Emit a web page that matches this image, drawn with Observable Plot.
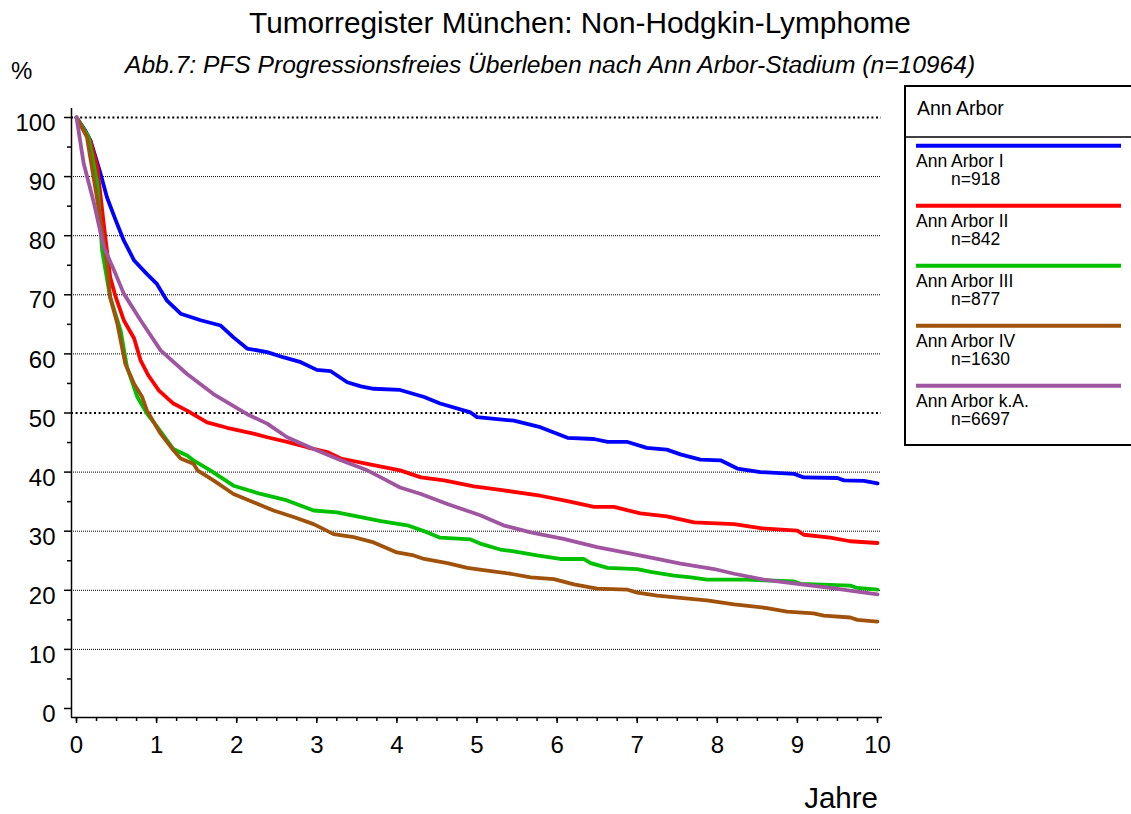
<!DOCTYPE html>
<html><head><meta charset="utf-8">
<script src="https://cdn.jsdelivr.net/npm/d3@7"></script>
<script src="https://cdn.jsdelivr.net/npm/@observablehq/plot@0.6"></script>
<style>body{margin:0;background:#fff;} #chart{width:1131px;height:814px;}</style>
</head><body><div id="chart"></div>
<script>
// ---- data (years, % progression-free survival) ----
const annArborI = [[0,100],[0.11,97.8],[0.175,96.1],[0.30,90.5],[0.38,86.5],[0.49,82.6],[0.59,79.2],[0.72,75.8],[0.88,73.5],[1.0,71.9],[1.13,69.0],[1.30,66.8],[1.55,65.7],[1.80,64.8],[1.96,62.8],[2.13,60.9],[2.38,60.3],[2.59,59.4],[2.80,58.6],[3.0,57.3],[3.17,57.1],[3.38,55.2],[3.55,54.5],[3.71,54.1],[4.04,53.9],[4.34,52.7],[4.54,51.6],[4.92,50.1],[5.0,49.3],[5.46,48.7],[5.79,47.6],[6.13,45.8],[6.46,45.6],[6.63,45.1],[6.88,45.1],[7.12,44.1],[7.37,43.8],[7.54,43.0],[7.79,42.1],[8.04,42.0],[8.25,40.6],[8.54,40.0],[8.96,39.7],[9.08,39.1],[9.50,39.0],[9.58,38.6],[9.83,38.5],[10,38.1]];
const annArborII = [[0,100],[0.17,96.2],[0.26,91.6],[0.34,82.0],[0.42,73.0],[0.49,69.6],[0.59,65.7],[0.72,62.6],[0.80,58.9],[0.90,56.3],[1.03,53.8],[1.21,51.6],[1.38,50.4],[1.63,48.4],[1.88,47.5],[2.21,46.5],[2.38,45.9],[2.63,45.1],[2.88,44.2],[3.13,43.4],[3.30,42.3],[3.63,41.4],[4.04,40.3],[4.30,39.1],[4.59,38.6],[4.96,37.6],[5.29,37.0],[5.79,36.0],[6.13,35.1],[6.46,34.1],[6.71,34.1],[7.04,33.0],[7.37,32.5],[7.71,31.5],[8.21,31.2],[8.54,30.5],[9.0,30.1],[9.08,29.4],[9.41,28.9],[9.66,28.3],[10,28.0]];
const annArborIII = [[0,100],[0.15,96.7],[0.26,88.8],[0.32,77.5],[0.42,69.6],[0.55,64.0],[0.63,57.8],[0.76,52.7],[0.88,49.9],[1.01,47.6],[1.21,43.9],[1.38,42.8],[1.46,42.0],[1.67,40.3],[1.96,37.7],[2.30,36.3],[2.63,35.2],[2.96,33.5],[3.25,33.2],[3.55,32.4],[3.80,31.7],[4.13,31.0],[4.38,29.8],[4.54,28.9],[4.92,28.6],[5.04,27.9],[5.29,26.9],[5.46,26.6],[5.75,25.9],[6.04,25.3],[6.33,25.3],[6.42,24.6],[6.63,23.8],[7.0,23.6],[7.17,23.1],[7.46,22.5],[7.67,22.2],[7.87,21.8],[8.37,21.8],[8.96,21.5],[9.04,21.1],[9.66,20.8],[9.75,20.4],[10,20.1]];
const annArborIV = [[0,100],[0.13,96.7],[0.26,86.0],[0.38,75.2],[0.42,69.6],[0.51,65.1],[0.61,58.3],[0.72,54.9],[0.82,52.7],[0.88,50.4],[1.05,46.5],[1.21,43.7],[1.30,42.3],[1.46,41.4],[1.51,40.3],[1.71,38.6],[1.96,36.3],[2.21,34.9],[2.46,33.5],[2.71,32.4],[2.96,31.2],[3.21,29.5],[3.46,29.0],[3.71,28.1],[4.0,26.4],[4.21,25.9],[4.34,25.3],[4.63,24.6],[4.88,23.8],[5.08,23.4],[5.42,22.8],[5.67,22.2],[5.96,21.9],[6.21,21.0],[6.50,20.3],[6.88,20.1],[7.0,19.6],[7.25,19.1],[7.54,18.7],[7.87,18.3],[8.21,17.6],[8.62,17.0],[8.87,16.4],[9.20,16.1],[9.33,15.7],[9.66,15.4],[9.75,15.0],[10,14.7]];
const annArborKA = [[0,100],[0.09,92.2],[0.22,85.4],[0.34,78.1],[0.47,74.1],[0.59,70.2],[0.80,65.7],[1.05,60.6],[1.38,56.6],[1.71,53.2],[2.13,49.8],[2.38,48.2],[2.63,45.9],[2.96,43.9],[3.30,42.0],[3.63,40.3],[3.80,39.1],[4.04,37.4],[4.30,36.3],[4.63,34.6],[5.04,32.7],[5.33,31.0],[5.67,29.8],[6.08,28.7],[6.50,27.3],[6.92,26.2],[7.25,25.3],[7.54,24.5],[7.96,23.6],[8.21,22.8],[8.58,21.8],[9.0,21.1],[9.41,20.4],[10,19.3]];

const seriesNames = ["Ann Arbor I", "Ann Arbor II", "Ann Arbor III", "Ann Arbor IV", "Ann Arbor k.A."];
const seriesN = [918, 842, 877, 1630, 6697];
const seriesColors = ["#0000ff", "#ff0000", "#00c000", "#a0520a", "#a055a0"];
const seriesPoints = [annArborI, annArborII, annArborIII, annArborIV, annArborKA];

const xMajor = [0,1,2,3,4,5,6,7,8,9,10];
const xMinor = d3.range(0, 10.001, 0.25);
const yMajor = [0,10,20,30,40,50,60,70,80,90,100];
const yMinor = [5,15,25,35,45,55,65,75,85,95];
const gridThin = [10,20,30,40,60,70,80,90];
const gridThick = [50,100];

const titleText = "Tumorregister München: Non-Hodgkin-Lymphome";
const subtitleText = "Abb.7: PFS Progressionsfreies Überleben nach Ann Arbor-Stadium (n=10964)";
const yLabel = "%";
const xLabel = "Jahre";
const legendTitle = "Ann Arbor";

const data = seriesNames.flatMap((name, i) => seriesPoints[i].map(([t, v]) => ({name, t, v})));
const FONT = "'Liberation Sans', Arial, Helvetica, sans-serif";

const chart = Plot.plot({
  width: 1131, height: 814,
  marginLeft: 76, marginRight: 254, marginTop: 117, marginBottom: 106,
  style: {fontFamily: FONT, background: "white", color: "black", overflow: "visible"},
  x: {domain: [0, 10], axis: null},
  y: {domain: [0, 100], axis: null},
  color: {domain: seriesNames, range: seriesColors},
  marks: [
    Plot.ruleY(gridThin, {stroke: "black", strokeWidth: 1, strokeDasharray: "1,1", insetLeft: -5, insetRight: -4}),
    Plot.ruleY(gridThick, {stroke: "black", strokeWidth: 2.2, strokeDasharray: "2,2.6", insetLeft: -5, insetRight: -4}),
    Plot.line(data, {x: "t", y: "v", z: "name", stroke: "name", strokeWidth: 3.8}),
    Plot.ruleX([0], {dx: -5, insetTop: -9, insetBottom: -9, stroke: "black", strokeWidth: 1.5}),
    Plot.ruleY([0], {dy: 9, insetLeft: -5, insetRight: -5, stroke: "black", strokeWidth: 1.5}),
    Plot.axisY({ticks: yMajor, tickSize: 7, dx: -5, fill: "none", label: null, stroke: "black", strokeWidth: 1.5}),
    Plot.axisY({ticks: yMinor, tickSize: 4, dx: -5, fill: "none", label: null, stroke: "black", strokeWidth: 1.5}),
    Plot.axisX({ticks: xMajor, tickSize: 6, dy: 9, fill: "none", label: null, stroke: "black", strokeWidth: 1.5}),
    Plot.axisX({ticks: xMinor, tickSize: 4, dy: 9, fill: "none", label: null, stroke: "black", strokeWidth: 1.5}),
    Plot.text(yMajor, {y: d => d, frameAnchor: "left", text: d => String(d), textAnchor: "end", dx: -21, dy: 6, fontSize: 24}),
    Plot.text(xMajor, {x: d => d, frameAnchor: "bottom", text: d => String(d), dy: 44, fontSize: 24})
  ]
});
document.getElementById("chart").appendChild(chart);

const svg = d3.select(chart);
const deco = svg.append("g").attr("font-family", FONT).attr("fill", "black");
deco.append("text").attr("x", 580).attr("y", 33).attr("text-anchor", "middle").attr("font-size", 29.8).text(titleText);
deco.append("text").attr("x", 125).attr("y", 73).attr("text-anchor", "start").attr("font-size", 24.6).attr("font-style", "italic").text(subtitleText);
deco.append("text").attr("x", 11).attr("y", 79).attr("text-anchor", "start").attr("font-size", 24).text(yLabel);
deco.append("text").attr("x", 878).attr("y", 808).attr("text-anchor", "end").attr("font-size", 29.5).text(xLabel);

// legend
const lg = svg.append("g").attr("font-family", FONT).attr("text-anchor", "start").attr("fill", "black");
lg.append("rect").attr("x", 905).attr("y", 86).attr("width", 260).attr("height", 359)
  .attr("fill", "white").attr("stroke", "black").attr("stroke-width", 2);
lg.append("line").attr("x1", 905).attr("x2", 1131).attr("y1", 137).attr("y2", 137).attr("stroke", "black").attr("stroke-width", 1.5);
lg.append("text").attr("x", 917).attr("y", 115).attr("font-size", 19.5).text(legendTitle);
seriesNames.forEach((name, i) => {
  const y0 = 145.7 + 60 * i;
  lg.append("line").attr("x1", 916).attr("x2", 1121).attr("y1", y0).attr("y2", y0)
    .attr("stroke", seriesColors[i]).attr("stroke-width", 4);
  lg.append("text").attr("x", 916).attr("y", y0 + 21.5).attr("font-size", 17.5).text(name);
  lg.append("text").attr("x", 951).attr("y", y0 + 39.5).attr("font-size", 17.5).text("n=" + seriesN[i]);
});
</script>
</body></html>
